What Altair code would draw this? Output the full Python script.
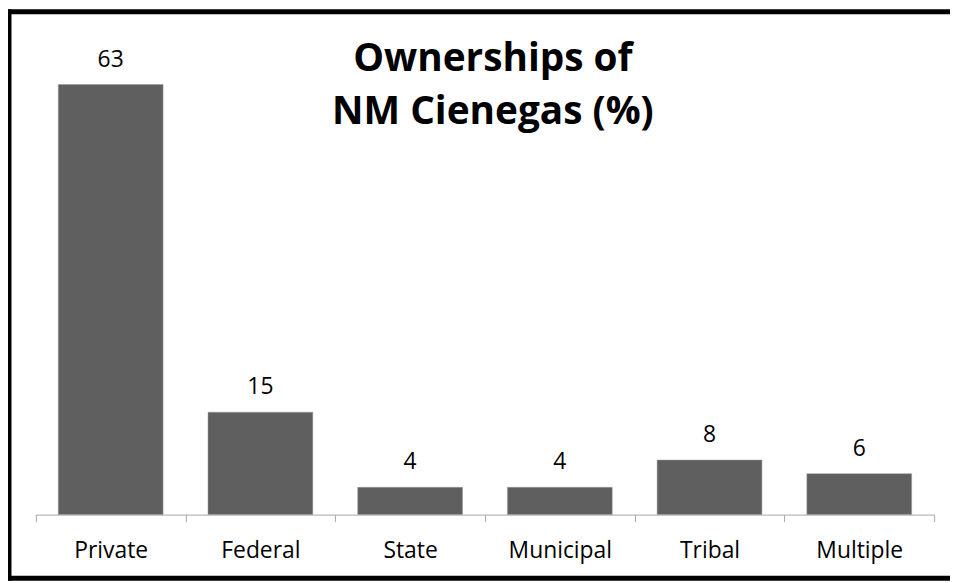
import altair as alt
import pandas as pd

categories = ["Private", "Federal", "State", "Municipal", "Tribal", "Multiple"]
values = [63, 15, 4, 4, 8, 6]
title_text = "Ownerships of\nNM Cienegas (%)"

df = pd.DataFrame({"category": categories, "value": values})

W, H = 904, 481
FONT = "Open Sans"

x = alt.X(
    "category:N",
    sort=categories,
    scale=alt.Scale(paddingInner=0, paddingOuter=0),
    axis=alt.Axis(
        title=None, labelAngle=0, domainColor="#a6a6a6", tickColor="#a6a6a6",
        tickSize=7, tickBand="extent", labelFont=FONT, labelFontSize=23,
        labelColor="#000000", labelPadding=18, grid=False,
    ),
)
y = alt.Y("value:Q", scale=alt.Scale(domain=[0, 70]), axis=None)

bars = alt.Chart(df).mark_bar(
    color="#5f5f5f", stroke="#9a9a9a", strokeWidth=0.5,
    width=alt.RelativeBandSize(0.7),
).encode(x=x, y=y)
labels = alt.Chart(df).mark_text(
    font=FONT, fontSize=23, color="#000000", baseline="alphabetic", dy=-18
).encode(x=x, y=y, text="value:Q")

title = alt.Chart(alt.Data(values=[{}])).mark_text(
    font=FONT, fontSize=39, fontWeight="bold", color="#000000",
    baseline="alphabetic", align="center", lineBreak="\n", lineHeight=53,
).encode(x=alt.value(460), y=alt.value(35), text=alt.value(title_text))

one = alt.Data(values=[{}])
rule_style = dict(color="#000000", strokeWidth=5, strokeCap="square", clip=False)
border_top = alt.Chart(one).mark_rule(**rule_style).encode(
    x=alt.value(-27), x2=alt.value(960), y=alt.value(-25))
border_left = alt.Chart(one).mark_rule(**rule_style).encode(
    x=alt.value(-27), y=alt.value(-25), y2=alt.value(545))
border_bottom = alt.Chart(one).mark_rule(**rule_style).encode(
    x=alt.value(-27), x2=alt.value(960), y=alt.value(545))

chart = alt.layer(bars, labels, title, border_top, border_left, border_bottom).properties(
    width=W, height=H,
    padding={"left": 28, "top": 27, "right": 16, "bottom": 66},
    autosize=alt.AutoSizeParams(type="none"),
).configure_view(stroke=None)

chart.save("out.html", embed_options={"renderer": "svg", "actions": False})
